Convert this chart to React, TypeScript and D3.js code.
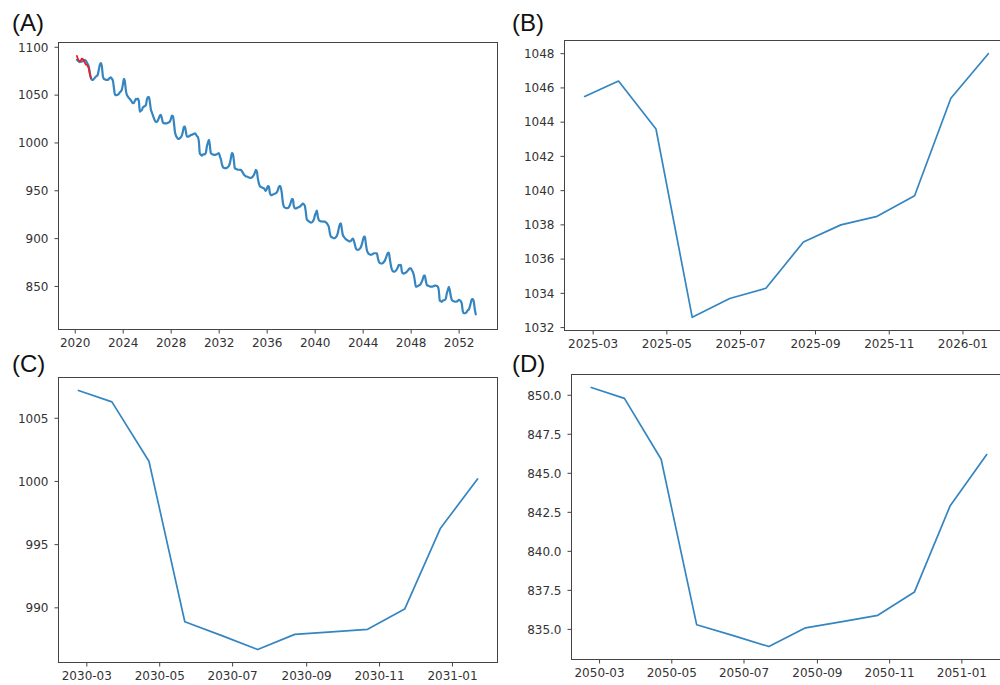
import React from "react";
import * as d3 from "d3";

// monthly series, one row per year (Feb .. Jan of the next year)
const forecastStart = new Date(2020, 1, 22);
const forecastValues = [
  1087, 1086, 1085, 1084.5, 1085, 1085, 1085.5, 1086, 1086.5, 1086, 1084, 1082, // 2020
  1079, 1073, 1068, 1066, 1066, 1067, 1068, 1069.5, 1070, 1072, 1077, 1082, // 2021
  1083.5, 1080, 1070, 1067, 1066.5, 1066, 1066, 1066, 1067, 1068, 1068.5, 1067, // 2022
  1065, 1058, 1051, 1050, 1050, 1050.5, 1051.5, 1053, 1053.8, 1056, 1061, 1067, // 2023
  1064, 1055, 1050.3, 1048.5, 1047, 1046, 1044.5, 1043, 1041.6, 1042, 1044, 1046, // 2024
  1045.5, 1046.4, 1043.6, 1032.6, 1033.7, 1034.3, 1037, 1038, 1038.5, 1039.7, 1045.4, 1048, // 2025
  1048, 1043, 1035, 1032, 1029, 1026, 1023.5, 1022, 1022, 1023.5, 1026, 1028.5, // 2026
  1029.4, 1026, 1021.5, 1020.7, 1020.5, 1020.5, 1020.5, 1021, 1021.5, 1022.5, 1025, 1028.7, // 2027
  1028, 1022, 1012, 1008, 1006, 1004.5, 1004.3, 1005, 1006, 1008, 1012, 1017, // 2028
  1017.2, 1012, 1006.7, 1006.5, 1007, 1007.5, 1008.5, 1008.5, 1009, 1009.5, 1010, 1009, // 2029
  1007.2, 1006.3, 1001.6, 988.9, 987.8, 986.7, 987.9, 988.1, 988.3, 989.9, 996.3, 1000.2, // 2030
  1003.2, 998, 989.3, 988.5, 988, 987.6, 987.6, 987.8, 988.2, 988.8, 989.3, 986, // 2031
  983, 978, 975, 974, 973.6, 973.6, 974, 975, 976, 978.9, 984, 989.3, // 2032
  988.6, 982, 973.6, 973, 972.5, 972, 972, 971.9, 971.9, 970.5, 969, 967, // 2033
  966, 965, 964.9, 964.5, 964, 963.5, 963.5, 964, 965, 966.5, 969, 971.9, // 2034
  970, 963, 957.9, 955, 954, 953.5, 953, 952.7, 951, 950, 952, 955, // 2035
  954.4, 948, 945.7, 945.5, 946, 946.5, 947, 947.5, 948.5, 951, 954, 955.1, // 2036
  953, 947.5, 938, 933.5, 932.5, 932, 931.8, 932, 933, 935, 938, 941.2, // 2037
  941.2, 934, 931.8, 931.5, 932, 932.5, 933, 933.5, 934.5, 935.5, 936.5, 936, // 2038
  934, 928, 920, 919, 918, 917.5, 916.7, 917, 918, 920, 924, 927, // 2039
  929.3, 923, 919.5, 918.5, 918, 918, 917.8, 917.8, 917.8, 917, 916.1, 914.3, // 2040
  912, 906, 902.2, 901.5, 901, 900.4, 900.5, 901.5, 903, 906, 911, 915, // 2041
  916, 910, 903.9, 902, 900.5, 899.5, 898.6, 898, 897.5, 897, 897.5, 899, // 2042
  900, 898, 894, 890, 888.5, 888.2, 888.5, 889.5, 891, 894, 898, 902, // 2043
  902.2, 895, 888.2, 885.5, 884, 883.5, 883, 883.5, 884, 884.7, 884.7, 884.7, // 2044
  884.7, 880, 876, 874.5, 874, 874, 874.5, 875.5, 877, 879.5, 882.5, 885, // 2045
  885.5, 879, 872.5, 868, 866, 865.5, 865.5, 866.5, 868, 870, 872.5, 872, // 2046
  872.5, 866, 863.8, 863.5, 864, 864.5, 865.5, 866.5, 868, 869, 869, 867, // 2047
  865, 862, 856, 850, 849.8, 850.5, 851, 851.6, 853, 855, 858, 861.3, // 2048
  861.3, 856, 851.6, 851, 850.5, 850, 849.8, 849.8, 850, 850.5, 850.8, 851, // 2049
  850.5, 849.8, 845.9, 835.3, 834.6, 833.9, 835.1, 835.5, 835.9, 837.4, 842.9, 846.2, // 2050
  849.5, 846, 840, 836, 835, 834.5, 834.1, 834, 834.3, 835, 835.9, 835.5, // 2051
  834.5, 832, 824, 822, 822, 822.5, 823.5, 825.4, 826, 829, 833, 836.9, // 2052
  836.9, 834, 826, 820.9, // 2053
];

// observed part, drawn in red
const observedStart = new Date(2020, 1, 22);
const observedValues = [
  1091, 1088, 1086, 1085.5, 1086.5, 1088, 1087.5, 1086, 1084, 1082, 1081.5, 1080,
  1077, 1072, 1068,
];

const startB = new Date(2025, 1, 22);
const valuesB = [1045.5, 1046.4, 1043.6, 1032.6, 1033.7, 1034.3, 1037, 1038, 1038.5, 1039.7, 1045.4, 1048];
const startC = new Date(2030, 1, 22);
const valuesC = [1007.2, 1006.3, 1001.6, 988.9, 987.8, 986.7, 987.9, 988.1, 988.3, 989.9, 996.3, 1000.2];
const startD = new Date(2050, 1, 22);
const valuesD = [850.5, 849.8, 845.9, 835.3, 834.6, 833.9, 835.1, 835.5, 835.9, 837.4, 842.9, 846.2];

const yearTicksA = [2020, 2024, 2028, 2032, 2036, 2040, 2044, 2048, 2052];
const yTicksA = [850, 900, 950, 1000, 1050, 1100];
const yTicksB = [1032, 1034, 1036, 1038, 1040, 1042, 1044, 1046, 1048];
const yTicksC = [990, 995, 1000, 1005];
const yTicksD = [835, 837.5, 840, 842.5, 845, 847.5, 850];

const BLUE = "#3585c1";
const FONT = "DejaVu Sans, sans-serif";

type Pt = { date: Date; value: number };
const monthly = (start: Date, values: number[]): Pt[] =>
  values.map((v, i) => ({ date: d3.timeMonth.offset(start, i), value: v }));

// matplotlib style 5% margins
const padExtent = (ext: [number, number]): [number, number] => {
  const p = (ext[1] - ext[0]) * 0.05;
  return [ext[0] - p, ext[1] + p];
};

type Series = { points: Pt[]; color: string; width: number };

function Panel(props: {
  box: { left: number; top: number; right: number; bottom: number };
  xDomain: [Date, Date];
  yDomain: [number, number];
  xTicks: Date[];
  xFormat: (d: Date) => string;
  yTicks: number[];
  yFormat: (v: number) => string;
  series: Series[];
  smooth?: boolean;
  label: string;
  labelPos: [number, number];
}) {
  const { box } = props;
  const x = d3.scaleTime().domain(props.xDomain).range([box.left, box.right]);
  const y = d3.scaleLinear().domain(props.yDomain).range([box.bottom, box.top]);
  const line = d3
    .line<Pt>()
    .x((d) => x(d.date))
    .y((d) => y(d.value))
    .curve(props.smooth ? d3.curveMonotoneX : d3.curveLinear);

  return (
    <g>
      <text
        x={props.labelPos[0]}
        y={props.labelPos[1]}
        fontFamily="Liberation Sans, Arial, sans-serif"
        fontSize={24}
        fill="#111"
      >
        {props.label}
      </text>
      {props.series.map((s, i) => (
        <path
          key={i}
          d={line(s.points) || ""}
          fill="none"
          stroke={s.color}
          strokeWidth={s.width}
          strokeLinejoin="round"
          strokeLinecap="round"
        />
      ))}
      <rect
        x={box.left}
        y={box.top}
        width={box.right - box.left}
        height={box.bottom - box.top}
        fill="none"
        stroke="#444"
        strokeWidth={1}
      />
      {props.yTicks.map((t) => (
        <g key={"y" + t}>
          <line x1={box.left - 4} x2={box.left} y1={y(t)} y2={y(t)} stroke="#444" />
          <text
            x={box.left - 10}
            y={y(t)}
            dy="0.36em"
            textAnchor="end"
            fontFamily={FONT}
            fontSize={12}
            fill="#333"
          >
            {props.yFormat(t)}
          </text>
        </g>
      ))}
      {props.xTicks.map((t) => (
        <g key={"x" + t.getTime()}>
          <line x1={x(t)} x2={x(t)} y1={box.bottom} y2={box.bottom + 4} stroke="#444" />
          <text
            x={x(t)}
            y={box.bottom + 17}
            textAnchor="middle"
            fontFamily={FONT}
            fontSize={12}
            fill="#333"
          >
            {props.xFormat(t)}
          </text>
        </g>
      ))}
    </g>
  );
}

function zoomPanel(start: Date, values: number[], yTicks: number[], yFormat: (v: number) => string,
  box: { left: number; top: number; right: number; bottom: number }, label: string, labelPos: [number, number]) {
  const pts = monthly(start, values);
  const dExt = d3.extent(pts, (d) => d.date.getTime()) as [number, number];
  const [d0, d1] = padExtent(dExt);
  const xDomain: [Date, Date] = [new Date(d0), new Date(d1)];
  const yDomain = padExtent(d3.extent(values) as [number, number]);
  const xTicks = d3.timeMonth.every(2)!.range(xDomain[0], xDomain[1]);
  return (
    <Panel
      box={box}
      xDomain={xDomain}
      yDomain={yDomain}
      xTicks={xTicks}
      xFormat={d3.timeFormat("%Y-%m")}
      yTicks={yTicks}
      yFormat={yFormat}
      series={[{ points: pts, color: BLUE, width: 1.7 }]}
      label={label}
      labelPos={labelPos}
    />
  );
}

export default function App() {
  const forecast = monthly(forecastStart, forecastValues);
  const observed = monthly(observedStart, observedValues);
  const fmtInt = (v: number) => String(v);
  const fmt1 = d3.format(".1f");

  return (
    <svg
      width={1000}
      height={685}
      style={{ position: "absolute", left: 0, top: 0, background: "#fff" }}
    >
      <Panel
        box={{ left: 58.5, top: 42.5, right: 497.5, bottom: 329.5 }}
        xDomain={[new Date(2018, 7, 10), new Date(2055, 2, 14)]}
        yDomain={[805, 1105]}
        xTicks={yearTicksA.map((yr) => new Date(yr, 0, 1))}
        xFormat={d3.timeFormat("%Y")}
        yTicks={yTicksA}
        yFormat={fmtInt}
        series={[
          { points: forecast, color: BLUE, width: 2.2 },
          { points: observed, color: "#ee1c24", width: 1.8 },
        ]}
        smooth
        label="(A)"
        labelPos={[12, 31]}
      />
      {zoomPanel(startB, valuesB, yTicksB, fmtInt, { left: 564.5, top: 40.5, right: 1008.5, bottom: 330.5 }, "(B)", [512, 31])}
      {zoomPanel(startC, valuesC, yTicksC, fmtInt, { left: 58.5, top: 377.5, right: 497.5, bottom: 662.5 }, "(C)", [12, 371.5])}
      {zoomPanel(startD, valuesD, yTicksD, fmt1, { left: 571.5, top: 374.5, right: 1006.5, bottom: 659.5 }, "(D)", [512, 371.5])}
    </svg>
  );
}
